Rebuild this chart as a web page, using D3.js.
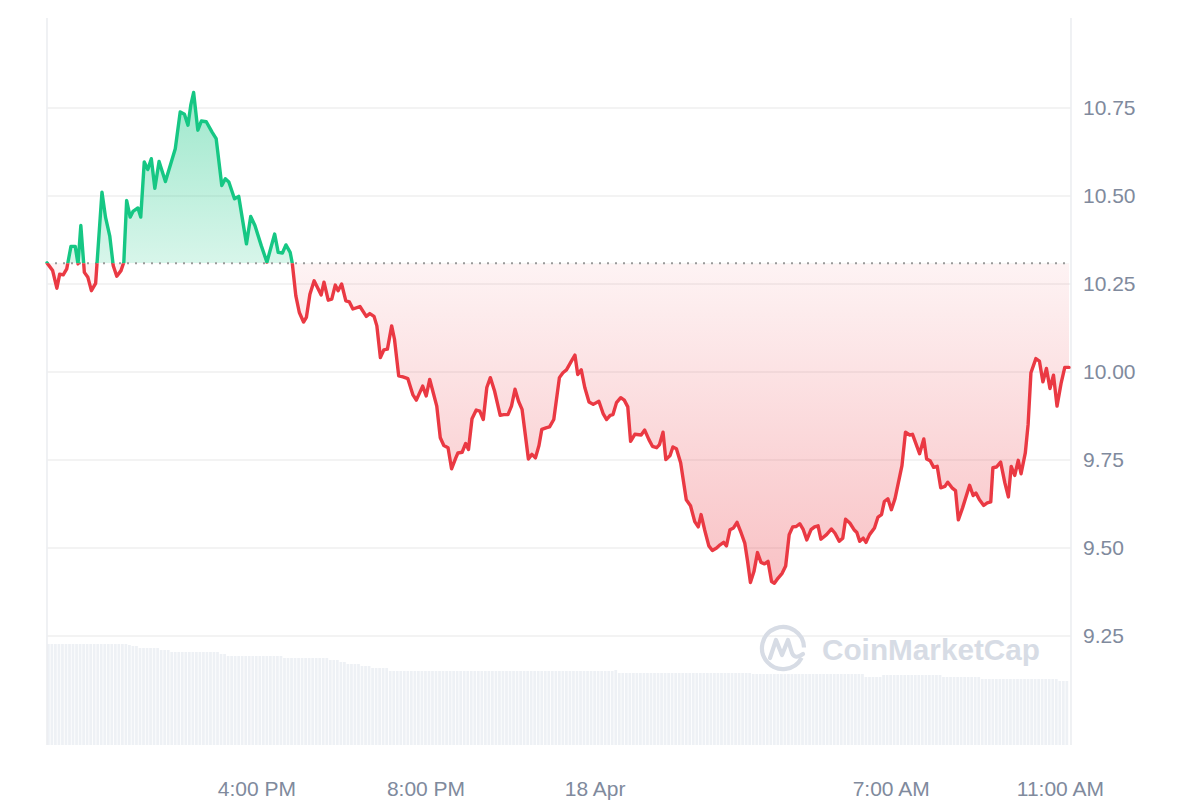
<!DOCTYPE html>
<html><head><meta charset="utf-8">
<script src="https://cdn.jsdelivr.net/npm/d3@7"></script>
<style>
html,body{margin:0;padding:0;background:#fff;}
svg{display:block;font-family:"Liberation Sans",Arial,Helvetica,sans-serif;}
</style>
</head><body>
<svg id="chart" width="1200" height="800"></svg>
<script>
// ---------------- DATA ----------------
const startTime = new Date(2024, 3, 17, 11, 3);
const referencePrice = 10.309;

const minutesFromStart = [0,8,14,18,23,28,34,40,44,48,53,58,63,69,78,83,89,94,99,105,109,113,118,122,129,133,138,143,148,153,159,168,182,189,195,200,204,208,214,219,226,234,240,248,253,258,266,272,283,289,295,
304,312,323,328,334,339,345,348,353,358,364,368,373,379,389,393,399,404,409,413,418,424,429,434,444,453,458,464,468,473,478,483,489,493,499,505,512,519,524,533,538,543,548,553,558,563,569,574,580,583,589,
594,598,603,609,614,619,624,629,635,643,648,654,659,664,669,674,683,688,693,698,702,709,713,719,727,732,737,744,749,753,758,763,769,775,783,789,794,799,803,808,814,819,824,828,834,843,848,854,859,865,869,874,
878,884,888,893,899,907,913,919,924,928,933,939,944,950,955,960,964,969,974,979,985,990,994,998,1003,1008,1013,1018,1023,1028,1032,1037,1043,1048,1053,1058,1063,1068,1073,1078,1084,1089,1094,1098,1106,1113,1118,1124,1129,1133,1139,1145,1149,1153,1158,1162,1167,
1174,1179,1184,1188,1193,1198,1203,1213,1218,1224,1228,1238,1244,1248,1253,1258,1263,1268,1274,1278,1284,1289,1293,1299,1309,1314,1318,1323,1329,1334,1339,1342,1347,1353,1359,1364,1368,1373,1378,1382,1388,1392,1396,1403,1408,1413,1418,1423,1428,1433,1439,1444,1450];

const prices = [10.31,10.288,10.238,10.278,10.276,10.293,10.357,10.357,10.307,10.416,10.283,10.269,10.231,10.252,10.511,10.440,10.387,10.302,10.272,10.288,10.312,10.487,10.440,10.456,10.466,10.440,10.597,10.575,10.606,10.522,10.598,10.541,10.634,10.739,10.732,10.701,10.758,10.794,10.687,10.713,10.711,10.682,10.663,10.530,10.549,10.540,10.492,10.499,10.364,10.442,10.416,
10.359,10.312,10.392,10.340,10.338,10.361,10.340,10.309,10.217,10.169,10.142,10.155,10.221,10.259,10.219,10.255,10.204,10.207,10.247,10.231,10.250,10.202,10.199,10.179,10.186,10.158,10.166,10.158,10.131,10.041,10.063,10.065,10.131,10.093,9.989,9.986,9.981,9.936,9.920,9.960,9.932,9.979,9.941,9.903,9.813,9.791,9.785,9.725,9.756,9.770,9.772,
9.797,9.780,9.867,9.892,9.889,9.865,9.956,9.984,9.946,9.877,9.879,9.879,9.903,9.951,9.917,9.894,9.753,9.766,9.756,9.791,9.837,9.842,9.844,9.865,9.984,9.998,10.006,10.031,10.048,9.993,10.006,9.956,9.915,9.908,9.917,9.882,9.865,9.877,9.879,9.913,9.927,9.920,9.901,9.803,9.823,9.821,9.835,9.808,9.789,9.785,9.794,9.829,
9.751,9.763,9.787,9.782,9.742,9.637,9.620,9.575,9.560,9.595,9.552,9.506,9.493,9.500,9.509,9.516,9.506,9.552,9.557,9.573,9.542,9.514,9.462,9.402,9.433,9.487,9.459,9.455,9.462,9.405,9.400,9.414,9.428,9.449,9.538,9.560,9.561,9.569,9.552,9.523,9.552,9.560,9.563,9.525,9.538,9.554,9.542,9.519,9.528,9.582,9.571,9.552,9.544,9.519,9.528,9.516,9.538,
9.557,9.588,9.595,9.632,9.640,9.609,9.639,9.734,9.829,9.821,9.823,9.768,9.810,9.753,9.748,9.729,9.732,9.671,9.675,9.687,9.671,9.663,9.580,9.614,9.678,9.649,9.656,9.637,9.621,9.628,9.631,9.728,9.730,9.744,9.685,9.645,9.732,9.706,9.749,9.711,9.770,9.851,9.998,10.038,10.031,9.972,10.010,9.953,9.991,9.903,9.970,10.013,10.013];

// 24h trading volume (USD millions), one bar per 5 minutes
const volumeIntervalMinutes = 5;
const volumes = [
101,101,101,101,101,101,101,101,101,101,101,101,101,101,101,101,101,101,101,101,101,101,101,
100,99,99,
97,97,97,97,97,97,
95,95,95,
93,93,93,93,93,93,93,93,93,93,93,93,93,93,
91,91,
89,89,89,89,89,89,89,89,89,89,89,89,89,89,89,89,
87,87,87,87,87,87,87,87,87,87,87,87,87,
85,85,85,
83,83,
81,81,81,81,
79,79,79,
77,77,77,77,77,
74,74,74,74,74,74,74,74,74,74,74,74,74,74,74,74,74,74,74,74,74,74,74,74,74,74,74,74,74,74,74,74,
74,74,74,74,74,74,74,74,74,74,74,74,74,74,74,74,74,74,74,74,74,74,74,74,74,74,74,74,74,74,74,74,
75,
72,72,72,72,72,72,72,72,72,72,72,72,72,72,72,72,72,72,72,72,72,72,72,72,72,72,72,72,72,72,72,72,72,72,72,72,72,72,
71,71,71,71,71,71,71,71,71,71,71,71,71,71,71,71,71,71,71,71,71,71,71,71,71,71,71,71,71,71,71,71,
68,68,68,68,68,
70,70,70,70,70,70,70,70,70,70,70,70,70,70,70,70,70,
68,68,68,68,68,68,68,68,68,68,68,
66,66,66,66,66,66,66,66,66,66,66,66,66,66,66,66,66,66,66,66,66,66,
64,64,64];

const priceTicks = [9.25, 9.5, 9.75, 10, 10.25, 10.5, 10.75];
const timeTicks = [new Date(2024,3,17,16,0), new Date(2024,3,17,20,0), new Date(2024,3,18,0,0), new Date(2024,3,18,7,0), new Date(2024,3,18,11,0)];
const timeTickLabels = ["4:00 PM", "8:00 PM", "18 Apr", "7:00 AM", "11:00 AM"];
const watermarkText = "CoinMarketCap";

// ---------------- CHART ----------------
const MIN = 60000;
const data = minutesFromStart.map((m, i) => ({ t: new Date(+startTime + m * MIN), v: prices[i] }));
const plot = { left: 47, right: 1071, top: 18, bottom: 745 };

const svg = d3.select("#chart");
const x = d3.scaleTime().domain(d3.extent(data, d => d.t)).range([47, 1069]);
const y = d3.scaleLinear().domain([9.25, 10.75]).range([636, 108]);
const yVol = d3.scaleLinear().domain([0, 130]).range([745, 615]);
const yRef = y(referencePrice);

const defs = svg.append("defs");
const gGreen = defs.append("linearGradient").attr("id", "gGreen").attr("gradientUnits", "userSpaceOnUse")
  .attr("x1", 0).attr("x2", 0).attr("y1", y(10.8)).attr("y2", yRef);
gGreen.append("stop").attr("offset", 0).attr("stop-color", "#16c784").attr("stop-opacity", 0.42);
gGreen.append("stop").attr("offset", 1).attr("stop-color", "#16c784").attr("stop-opacity", 0.17);
const gRed = defs.append("linearGradient").attr("id", "gRed").attr("gradientUnits", "userSpaceOnUse")
  .attr("x1", 0).attr("x2", 0).attr("y1", yRef).attr("y2", y(9.4));
gRed.append("stop").attr("offset", 0).attr("stop-color", "#ea3943").attr("stop-opacity", 0.06);
gRed.append("stop").attr("offset", 1).attr("stop-color", "#ea3943").attr("stop-opacity", 0.31);

defs.append("clipPath").attr("id", "clipAbove").append("rect")
  .attr("x", 0).attr("y", 0).attr("width", 1200).attr("height", yRef);
defs.append("clipPath").attr("id", "clipBelow").append("rect")
  .attr("x", 0).attr("y", yRef).attr("width", 1200).attr("height", 800 - yRef);

// volume bars
const volG = svg.append("g");
volG.selectAll("rect").data(volumes).join("rect")
  .attr("x", (d, i) => x(new Date(+startTime + i * volumeIntervalMinutes * MIN)))
  .attr("width", (d, i) => Math.max(0.5, x(new Date(+startTime + (i + 1) * volumeIntervalMinutes * MIN)) - x(new Date(+startTime + i * volumeIntervalMinutes * MIN)) - 0.8))
  .attr("y", d => yVol(d))
  .attr("height", d => yVol(0) - yVol(d))
  .attr("fill", "#eef1f5");

// gridlines
svg.append("g").selectAll("line").data(priceTicks).join("line")
  .attr("x1", plot.left).attr("x2", plot.right)
  .attr("y1", d => y(d)).attr("y2", d => y(d))
  .attr("stroke", "#efefef").attr("stroke-width", 1.6);

// frame verticals
svg.append("line").attr("x1", plot.left).attr("x2", plot.left).attr("y1", plot.top).attr("y2", plot.bottom)
  .attr("stroke", "#eceef1").attr("stroke-width", 1.6);
svg.append("line").attr("x1", plot.right).attr("x2", plot.right).attr("y1", plot.top).attr("y2", plot.bottom)
  .attr("stroke", "#eceef1").attr("stroke-width", 1.6);

// watermark
const wm = svg.append("g").attr("fill", "none").attr("stroke", "#d7dce5");
const logo = wm.append("g").attr("transform", "translate(783,648)");
logo.append("path")
  .attr("d", d3.arc().innerRadius(21).outerRadius(21).startAngle(2.05).endAngle(2 * Math.PI + 1.55)())
  .attr("stroke-width", 4.2).attr("stroke-linecap", "round");
logo.append("path")
  .attr("d", "M-13,10 L-7,-8 L-1,7 L5,-8 L9,5 Q12,12 20,6")
  .attr("stroke-width", 4.2).attr("stroke-linejoin", "round").attr("stroke-linecap", "round");
svg.append("text").attr("x", 822).attr("y", 660).text(watermarkText)
  .attr("font-size", 30).attr("font-weight", 700).attr("fill", "#d7dce5")
  .attr("textLength", 218).attr("lengthAdjust", "spacingAndGlyphs");

// areas
const area = d3.area().x(d => x(d.t)).y0(yRef).y1(d => y(d.v));
svg.append("path").datum(data).attr("d", area).attr("fill", "url(#gGreen)").attr("clip-path", "url(#clipAbove)");
svg.append("path").datum(data).attr("d", area).attr("fill", "url(#gRed)").attr("clip-path", "url(#clipBelow)");

// reference dotted line
svg.append("line").attr("x1", x(data[0].t)).attr("x2", x(data[data.length - 1].t))
  .attr("y1", yRef).attr("y2", yRef)
  .attr("stroke", "#9a9a9a").attr("stroke-width", 2).attr("stroke-dasharray", "2 6");

// price line
const line = d3.line().x(d => x(d.t)).y(d => y(d.v));
svg.append("path").datum(data).attr("d", line).attr("fill", "none")
  .attr("stroke", "#16c784").attr("stroke-width", 3.4).attr("stroke-linejoin", "round").attr("stroke-linecap", "round")
  .attr("clip-path", "url(#clipAbove)");
svg.append("path").datum(data).attr("d", line).attr("fill", "none")
  .attr("stroke", "#ea3943").attr("stroke-width", 3.4).attr("stroke-linejoin", "round").attr("stroke-linecap", "round")
  .attr("clip-path", "url(#clipBelow)");

// axes
const yAxis = svg.append("g").attr("transform", `translate(${plot.right},0)`)
  .call(d3.axisRight(y).tickValues(priceTicks).tickFormat(d3.format(".2f")).tickSize(0).tickPadding(12));
yAxis.select(".domain").remove();
yAxis.selectAll("text").attr("font-size", 21).attr("fill", "#808a9d").attr("font-family", null).attr("dy", "0.32em");

const xAxis = svg.append("g").attr("transform", "translate(0,796)")
  .call(d3.axisBottom(x).tickValues(timeTicks).tickFormat((d, i) => timeTickLabels[i]).tickSize(0));
xAxis.select(".domain").remove();
xAxis.selectAll("text").attr("y", 0).attr("dy", 0).attr("font-size", 21).attr("fill", "#808a9d").attr("font-family", null);
</script>
</body></html>
